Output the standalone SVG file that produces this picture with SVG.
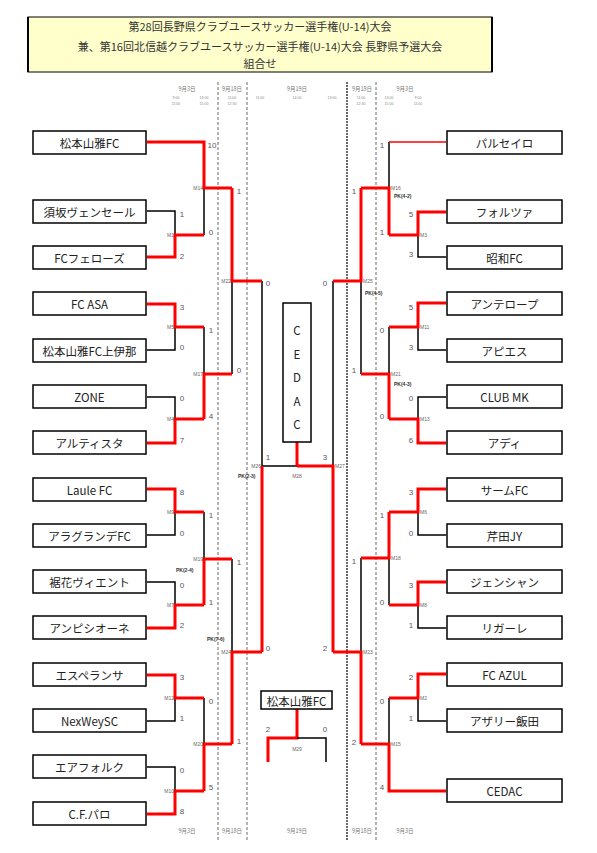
<svg xmlns="http://www.w3.org/2000/svg" width="597" height="853" viewBox="0 0 597 853">
<style>
text{font-family:"Noto Sans CJK JP","Noto Sans",sans-serif}
.hd{font-size:11px;fill:#333;text-anchor:middle}
.tm{font-size:11.5px;fill:#222;text-anchor:middle;dominant-baseline:central}
.box{fill:#fff;stroke:#000;stroke-width:1.5}
.r{stroke:#f00;stroke-width:3;fill:none}
.k{stroke:#000;stroke-width:1.5;fill:none}
.s{font-size:8px;fill:#556;text-anchor:middle;dominant-baseline:central;font-family:"Liberation Sans",sans-serif}
.ml{font-size:5px;fill:#666;dominant-baseline:central;font-family:"Liberation Sans",sans-serif}
.e{text-anchor:end}
.m{text-anchor:middle}
.pk{font-size:5px;fill:#333;font-weight:bold;dominant-baseline:central;font-family:"Liberation Sans",sans-serif}
.dt{font-size:5.5px;fill:#777;text-anchor:middle}
.tt{font-size:3.5px;fill:#888;text-anchor:middle;font-family:"Liberation Sans",sans-serif}
.d1{stroke:#444;stroke-width:0.8;stroke-dasharray:3,2;fill:none}
.d2{stroke:#444;stroke-width:1.6;stroke-dasharray:2,1;fill:none}
</style>
<rect width="597" height="853" fill="#fff"/>
<g id="header">
<rect x="28" y="17" width="464" height="55" fill="#ffffcc" stroke="#000" stroke-width="1"/>
<line x1="28" y1="17" x2="28" y2="72" stroke="#000" stroke-width="2"/>
<line x1="492" y1="17" x2="492" y2="72" stroke="#000" stroke-width="2"/>
<text class="hd" x="260" y="31">第28回長野県クラブユースサッカー選手権(U-14)大会</text>
<text class="hd" x="260" y="51">兼、第16回北信越クラブユースサッカー選手権(U-14)大会 長野県予選大会</text>
<text class="hd" x="260" y="68">組合せ</text>
</g>
<g id="schedule">
<path class="d1" d="M218,82V840M247,82V840M376,82V840"/>
<path class="d2" d="M347,82V840"/>
<text class="dt" x="187" y="91">9月3日</text>
<text class="dt" x="232" y="91">9月18日</text>
<text class="dt" x="297" y="91">9月19日</text>
<text class="dt" x="362" y="91">9月18日</text>
<text class="dt" x="405" y="91">9月3日</text>
<text class="tt" x="176" y="99">9:00</text><text class="tt" x="176" y="105">11:00</text>
<text class="tt" x="204" y="99">13:00</text><text class="tt" x="204" y="105">15:00</text>
<text class="tt" x="232" y="99">11:00</text><text class="tt" x="232" y="105">12:30</text>
<text class="tt" x="260" y="99">11:00</text>
<text class="tt" x="297" y="99">14:00</text>
<text class="tt" x="332" y="99">13:00</text>
<text class="tt" x="361" y="99">11:00</text><text class="tt" x="361" y="105">12:30</text>
<text class="tt" x="389" y="99">13:00</text><text class="tt" x="389" y="105">15:00</text>
<text class="tt" x="418" y="99">9:00</text><text class="tt" x="418" y="105">11:00</text>
<text class="dt" x="187" y="833">9月3日</text>
<text class="dt" x="232" y="833">9月18日</text>
<text class="dt" x="297" y="833">9月19日</text>
<text class="dt" x="362" y="833">9月18日</text>
<text class="dt" x="405" y="833">9月3日</text>
</g>
<g id="connectors">
<path class="k" d="M147,211H175V235M204,235V188M147,350H175V327M147,397H175V419M204,327V374M232,374V281M147,535H175V512M147,582H175V605M204,512V559M147,721H175V698M147,767H175V791M204,698V744M232,559V652M262,281V466H297M333,281V466"/>
<path class="r" d="M147,257H175V235H204M147,142H204V188H232M147,304H175V327H204M147,443H175V419H204M204,419V374H232M232,188V281H262M147,489H175V512H204M147,628H175V605H204M204,605V559H232M147,675H175V698H204M147,814H175V791H204M204,791V744H232M232,744V652H262M262,652V466M333,652V466H297M297,466V442"/>
<path class="k" d="M446,257H418V235M389,142V188M446,350H418V327M446,397H418V419M389,327V374M361,374V281M446,535H418V512M446,628H418V605M389,605V558M446,721H418V698M389,698V744M361,558V652"/>
<path d="M446,142H389" stroke="#f00" stroke-width="1.5" fill="none"/>
<path class="r" d="M446,212H418V235H389M389,235V188H361M446,303H418V327H389M446,443H418V419H389M389,419V374H361M361,188V281H333M446,489H418V512H389M389,512V558H361M446,582H418V605H389M446,674H418V698H389M446,791H389V744H361M361,744V652H333"/>
<path class="r" d="M297,709V738H268V762"/>
<path class="k" d="M297,738H326V762"/>
</g>
<g id="left-teams">
<g id="t-matsumoto"><rect class="box" x="33" y="131" width="113" height="23"/><text class="tm" x="89.5" y="142.5">松本山雅FC</text></g>
<g id="t-suzaka"><rect class="box" x="33" y="200" width="113" height="23"/><text class="tm" x="89.5" y="211.5">須坂ヴェンセール</text></g>
<g id="t-fellows"><rect class="box" x="33" y="246" width="113" height="23"/><text class="tm" x="89.5" y="257.5">FCフェローズ</text></g>
<g id="t-fcasa"><rect class="box" x="33" y="292" width="113" height="23"/><text class="tm" x="89.5" y="303.5">FC ASA</text></g>
<g id="t-kamiina"><rect class="box" x="33" y="339" width="113" height="23"/><text class="tm" x="89.5" y="350.5">松本山雅FC上伊那</text></g>
<g id="t-zone"><rect class="box" x="33" y="385" width="113" height="23"/><text class="tm" x="89.5" y="396.5">ZONE</text></g>
<g id="t-altista"><rect class="box" x="33" y="431" width="113" height="23"/><text class="tm" x="89.5" y="442.5">アルティスタ</text></g>
<g id="t-laule"><rect class="box" x="33" y="478" width="113" height="23"/><text class="tm" x="89.5" y="489.5">Laule FC</text></g>
<g id="t-alagrande"><rect class="box" x="33" y="524" width="113" height="23"/><text class="tm" x="89.5" y="535.5">アラグランデFC</text></g>
<g id="t-viento"><rect class="box" x="33" y="570" width="113" height="23"/><text class="tm" x="89.5" y="581.5">裾花ヴィエント</text></g>
<g id="t-ampicione"><rect class="box" x="33" y="616" width="113" height="23"/><text class="tm" x="89.5" y="627.5">アンピシオーネ</text></g>
<g id="t-esperanza"><rect class="box" x="33" y="663" width="113" height="23"/><text class="tm" x="89.5" y="674.5">エスペランサ</text></g>
<g id="t-nexwey"><rect class="box" x="33" y="709" width="113" height="23"/><text class="tm" x="89.5" y="720.5">NexWeySC</text></g>
<g id="t-airvolk"><rect class="box" x="33" y="755" width="113" height="23"/><text class="tm" x="89.5" y="766.5">エアフォルク</text></g>
<g id="t-cfparo"><rect class="box" x="33" y="802" width="113" height="23"/><text class="tm" x="89.5" y="813.5">C.F.パロ</text></g>
</g>
<g id="right-teams">
<g id="t-parceiro"><rect class="box" x="447" y="131" width="115" height="23"/><text class="tm" x="504.5" y="142.5">パルセイロ</text></g>
<g id="t-forza"><rect class="box" x="447" y="200" width="115" height="23"/><text class="tm" x="504.5" y="211.5">フォルツァ</text></g>
<g id="t-showa"><rect class="box" x="447" y="246" width="115" height="23"/><text class="tm" x="504.5" y="257.5">昭和FC</text></g>
<g id="t-antelope"><rect class="box" x="447" y="292" width="115" height="23"/><text class="tm" x="504.5" y="303.5">アンテロープ</text></g>
<g id="t-apies"><rect class="box" x="447" y="339" width="115" height="23"/><text class="tm" x="504.5" y="350.5">アピエス</text></g>
<g id="t-clubmk"><rect class="box" x="447" y="385" width="115" height="23"/><text class="tm" x="504.5" y="396.5">CLUB MK</text></g>
<g id="t-adi"><rect class="box" x="447" y="431" width="115" height="23"/><text class="tm" x="504.5" y="442.5">アディ</text></g>
<g id="t-therm"><rect class="box" x="447" y="478" width="115" height="23"/><text class="tm" x="504.5" y="489.5">サームFC</text></g>
<g id="t-serita"><rect class="box" x="447" y="524" width="115" height="23"/><text class="tm" x="504.5" y="535.5">芹田JY</text></g>
<g id="t-gentian"><rect class="box" x="447" y="570" width="115" height="23"/><text class="tm" x="504.5" y="581.5">ジェンシャン</text></g>
<g id="t-ligare"><rect class="box" x="447" y="616" width="115" height="23"/><text class="tm" x="504.5" y="627.5">リガーレ</text></g>
<g id="t-azul"><rect class="box" x="447" y="663" width="115" height="23"/><text class="tm" x="504.5" y="674.5">FC AZUL</text></g>
<g id="t-azaly"><rect class="box" x="447" y="709" width="115" height="23"/><text class="tm" x="504.5" y="720.5">アザリー飯田</text></g>
<g id="t-cedac"><rect class="box" x="447" y="779" width="115" height="23"/><text class="tm" x="504.5" y="790.5">CEDAC</text></g>
</g>
<g id="winner-cedac">
<rect class="box" x="283" y="303" width="28" height="139"/>
<text class="tm" x="297" y="330">C</text>
<text class="tm" x="297" y="354">E</text>
<text class="tm" x="297" y="377">D</text>
<text class="tm" x="297" y="401">A</text>
<text class="tm" x="297" y="424">C</text>
</g>
<g id="winner-matsumoto">
<rect class="box" x="261" y="691" width="71" height="18"/>
<text class="tm" x="296.5" y="700.5">松本山雅FC</text>
</g>
<g id="scores">
<text class="s" x="182" y="214">1</text><text class="s" x="182" y="256">2</text>
<text class="s" x="182" y="307">3</text><text class="s" x="182" y="347">0</text>
<text class="s" x="182" y="398">0</text><text class="s" x="182" y="440">7</text>
<text class="s" x="182" y="492">8</text><text class="s" x="182" y="533">0</text>
<text class="s" x="182" y="585">0</text><text class="s" x="182" y="625">2</text>
<text class="s" x="182" y="677">3</text><text class="s" x="182" y="718">1</text>
<text class="s" x="182" y="770">0</text><text class="s" x="182" y="811">8</text>
<text class="s" x="212" y="145">10</text>
<text class="s" x="211" y="232">0</text><text class="s" x="211" y="330">1</text>
<text class="s" x="211" y="416">4</text><text class="s" x="211" y="515">1</text>
<text class="s" x="211" y="602">1</text><text class="s" x="211" y="701">0</text>
<text class="s" x="211" y="787">5</text>
<text class="s" x="239" y="191">1</text><text class="s" x="239" y="370">0</text>
<text class="s" x="239" y="562">1</text><text class="s" x="239" y="741">1</text>
<text class="s" x="268" y="283">0</text><text class="s" x="268" y="648">0</text>
<text class="s" x="268" y="457">1</text>
<text class="s" x="325" y="283">0</text><text class="s" x="325" y="648">2</text>
<text class="s" x="325" y="457">3</text>
<text class="s" x="354" y="191">1</text><text class="s" x="354" y="370">1</text>
<text class="s" x="354" y="561">1</text><text class="s" x="354" y="742">2</text>
<text class="s" x="382" y="145">1</text><text class="s" x="382" y="232">1</text>
<text class="s" x="382" y="330">0</text><text class="s" x="382" y="416">0</text>
<text class="s" x="382" y="515">1</text><text class="s" x="382" y="602">0</text>
<text class="s" x="382" y="701">0</text><text class="s" x="382" y="787">4</text>
<text class="s" x="411" y="214">5</text><text class="s" x="411" y="254">3</text>
<text class="s" x="411" y="307">5</text><text class="s" x="411" y="347">3</text>
<text class="s" x="411" y="398">0</text><text class="s" x="411" y="440">6</text>
<text class="s" x="411" y="492">3</text><text class="s" x="411" y="533">0</text>
<text class="s" x="411" y="585">3</text><text class="s" x="411" y="625">1</text>
<text class="s" x="411" y="677">2</text><text class="s" x="411" y="718">1</text>
<text class="s" x="268" y="729">2</text><text class="s" x="325" y="729">0</text>
</g>
<g id="match-labels">
<text class="ml e" x="203" y="188">M14</text><text class="ml e" x="174" y="235">M1</text>
<text class="ml e" x="174" y="327">M5</text><text class="ml e" x="174" y="419">M4</text>
<text class="ml e" x="203" y="374">M17</text><text class="ml e" x="231" y="281">M22</text>
<text class="ml e" x="174" y="512">M9</text><text class="ml e" x="174" y="605">M7</text>
<text class="ml e" x="203" y="559">M19</text><text class="ml e" x="174" y="698">M12</text>
<text class="ml e" x="174" y="791">M10</text><text class="ml e" x="203" y="744">M20</text>
<text class="ml e" x="231" y="652">M24</text><text class="ml e" x="261" y="466">M26</text>
<text class="ml" x="391" y="188">M16</text><text class="ml" x="420" y="235">M3</text>
<text class="ml" x="363" y="281">M25</text><text class="ml" x="420" y="327">M11</text>
<text class="ml" x="391" y="374">M21</text><text class="ml" x="420" y="419">M13</text>
<text class="ml" x="420" y="512">M6</text><text class="ml" x="391" y="558">M18</text>
<text class="ml" x="420" y="605">M8</text><text class="ml" x="363" y="652">M23</text>
<text class="ml" x="420" y="698">M2</text><text class="ml" x="391" y="744">M15</text>
<text class="ml" x="335" y="466">M27</text>
<text class="ml m" x="297" y="476">M28</text>
<text class="ml m" x="297" y="749">M29</text>
<text class="pk" x="394" y="196">PK(4-2)</text>
<text class="pk" x="365" y="293">PK(4-5)</text>
<text class="pk" x="394" y="384">PK(4-3)</text>
<text class="pk" x="176" y="570">PK(2-4)</text>
<text class="pk" x="207" y="639">PK(7-6)</text>
<text class="pk" x="238" y="476">PK(2-3)</text>
</g>
</svg>
